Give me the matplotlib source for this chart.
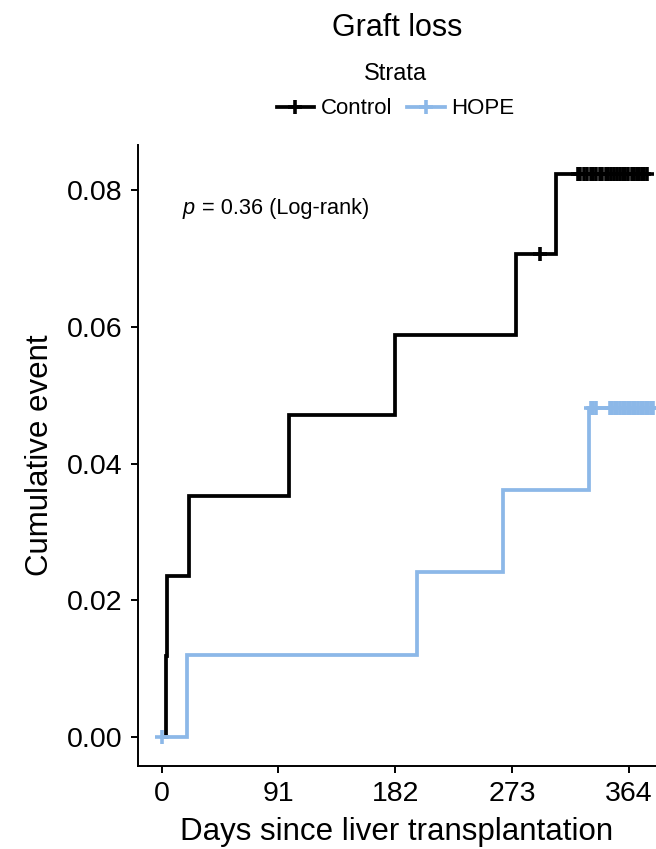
import numpy as np
import matplotlib
matplotlib.use("Agg")
import matplotlib.pyplot as plt
from matplotlib.lines import Line2D

plt.rcParams['font.family'] = ['Liberation Sans', 'DejaVu Sans']

# ---- data ----
control_event_days = [0, 3, 4, 21, 99, 182, 276, 307]
control_cum = [0.0, 0.0118, 0.0235, 0.0353, 0.0471, 0.0588, 0.0706, 0.0824]
control_end_day = 379
control_censor_days = [295, 324, 326, 329, 331, 334, 336, 338, 341, 343, 346,
                       348, 350, 352, 355, 357, 359, 361, 363, 366, 368, 370,
                       372, 374, 376, 378]

hope_event_days = [0, 20, 199, 266, 333]
hope_cum = [0.0, 0.0120, 0.0241, 0.0361, 0.0482]
hope_end_day = 383
hope_censor_days = [0, 334, 336, 338, 349, 351, 353, 355, 357, 359, 361, 363,
                    365, 367, 369, 371, 373, 375, 377, 379, 381, 383]

x_ticks = [0, 91, 182, 273, 364]
y_ticks = [0.00, 0.02, 0.04, 0.06, 0.08]
y_tick_labels = ["0.00", "0.02", "0.04", "0.06", "0.08"]

title = "Graft loss"
legend_title = "Strata"
group_names = ["Control", "HOPE"]
colors = ["#000000", "#8CB8E8"]
pval_text = "= 0.36 (Log-rank)"
x_label = "Days since liver transplantation"
y_label = "Cumulative event"

# ---- figure ----
fig = plt.figure(figsize=(6.56, 8.49), dpi=100)
ax = fig.add_axes([0.2104, 0.0978, 0.7896, 0.7314])

LW = 2.7
series = [
    (control_event_days, control_cum, control_end_day, control_censor_days),
    (hope_event_days, hope_cum, hope_end_day, hope_censor_days),
]
for (ev, cum, end, cens), col in zip(series, colors):
    xs = list(ev) + [end]
    ys = list(cum) + [cum[-1]]
    ax.step(xs, ys, where='post', color=col, lw=LW, solid_capstyle='butt',
            solid_joinstyle='miter')
    ev_arr = np.asarray(ev)
    cum_arr = np.asarray(cum)
    cy = [cum_arr[np.searchsorted(ev_arr, c, side='right') - 1] for c in cens]
    ax.plot(cens, cy, linestyle='none', marker='+', color=col,
            markersize=10, mew=2.6)

ax.set_xlim(-18.4, 385)
ax.set_ylim(-0.00424, 0.0866)
ax.set_xticks(x_ticks)
ax.set_xticklabels([str(t) for t in x_ticks])
ax.set_yticks(y_ticks)
ax.set_yticklabels(y_tick_labels)

for s in ['top', 'right']:
    ax.spines[s].set_visible(False)
for s in ['left', 'bottom']:
    ax.spines[s].set_linewidth(1.4)
ax.tick_params(axis='both', length=5, width=1.4, labelsize=20.5, pad=6,
               color='black', labelcolor='black')

ax.set_xlabel(x_label, fontsize=22.5, labelpad=7)
ax.set_ylabel(y_label, fontsize=22.5, labelpad=9)

ax.text(0.085, 0.898, "p", style='italic', fontsize=15.7,
        transform=ax.transAxes, va='center', ha='left')
ax.text(0.111, 0.898, " " + pval_text, fontsize=15.7,
        transform=ax.transAxes, va='center', ha='left')

fig.text(0.605, 1 - 28 / 849, title, ha='center', va='center', fontsize=22)

handles = [Line2D([], [], color=c, lw=LW, marker='+', markersize=10, mew=2.6)
           for c in colors]
leg = fig.legend(handles, group_names, title=legend_title, ncol=2,
                 loc='center', bbox_to_anchor=(0.603, 1 - 91 / 849),
                 frameon=False, fontsize=16, title_fontsize=17,
                 handlelength=1.7, handletextpad=0.3, columnspacing=0.65,
                 borderaxespad=0)
leg._legend_box.sep = 10

fig.savefig("out.png", dpi=100)
